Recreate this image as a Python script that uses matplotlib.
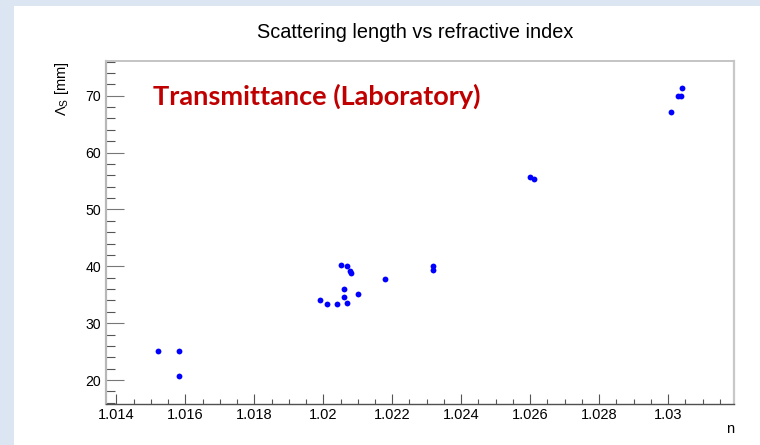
import matplotlib
matplotlib.use("Agg")
import matplotlib.pyplot as plt
from matplotlib.ticker import MultipleLocator, FuncFormatter
from matplotlib.patches import Rectangle

# Measured refractive index and scattering length
refr_index = [1.01522, 1.01582, 1.01582, 1.01990, 1.02010, 1.02039, 1.02050,
              1.02060, 1.02060, 1.02070, 1.02070, 1.02078, 1.02080, 1.02100,
              1.02179, 1.02319, 1.02319, 1.02600, 1.02610, 1.03008, 1.03028,
              1.03038, 1.03039]
scat_length = [25.2, 25.2, 20.8, 34.1, 33.4, 33.4, 40.2,
               36.0, 34.6, 40.1, 33.5, 39.2, 38.9, 35.2,
               37.8, 40.0, 39.3, 55.7, 55.3, 67.2, 69.9,
               69.9, 71.3]

title = "Scattering length vs refractive index"
x_title = "n"
y_title = r"$\mathrm{\Lambda_{S}}$ [mm]"
banner = "Transmittance (Laboratory)"

plt.rcParams["font.family"] = ["Liberation Sans", "DejaVu Sans"]
plt.rcParams["mathtext.fontset"] = "custom"
plt.rcParams["mathtext.rm"] = "Liberation Sans"

W, H = 760, 445
fig = plt.figure(figsize=(W / 100, H / 100), dpi=100, facecolor="white")

# light border strips along the top and left
strip = "#dce6f2"
fig.patches.append(Rectangle((0, 0), 14 / W, 1, transform=fig.transFigure,
                             facecolor=strip, edgecolor="none", zorder=0))
fig.patches.append(Rectangle((0, 1 - 6 / H), 1, 6 / H, transform=fig.transFigure,
                             facecolor=strip, edgecolor="none", zorder=0))

left, right, top, bottom = 106, 734, 61, 404
ax = fig.add_axes([left / W, 1 - bottom / H, (right - left) / W, (bottom - top) / H])

ax.plot(refr_index, scat_length, linestyle="none", marker="o", markersize=4.2,
        color="#0000ff", markeredgewidth=0)

ax.set_xlim(1.0137, 1.03191)
ax.set_ylim(15.8, 76.1)

ax.xaxis.set_major_locator(MultipleLocator(0.002))
ax.xaxis.set_minor_locator(MultipleLocator(0.0005))
ax.yaxis.set_major_locator(MultipleLocator(10))
ax.yaxis.set_minor_locator(MultipleLocator(2))
ax.xaxis.set_major_formatter(FuncFormatter(lambda v, p: f"{v:.3f}".rstrip("0")))
ax.yaxis.set_major_formatter(FuncFormatter(lambda v, p: f"{v:.0f}"))

ax.tick_params(axis="x", which="major", direction="in", length=7.2, width=0.8,
               color="#555555", labelsize=10.5, pad=3, top=False)
ax.tick_params(axis="x", which="minor", direction="in", length=3.6, width=0.8,
               color="#555555", top=False)
ax.tick_params(axis="y", which="major", direction="in", length=13, width=0.8,
               color="#777777", labelsize=10.2, pad=3.5, right=False)
ax.tick_params(axis="y", which="minor", direction="in", length=6.5, width=0.8,
               color="#555555", right=False)

ax.spines["left"].set_color("#b8b8b8")
ax.spines["left"].set_linewidth(1.6)
ax.spines["bottom"].set_color("#505050")
ax.spines["bottom"].set_linewidth(1.0)
ax.spines["top"].set_color("#c4c4c4")
ax.spines["top"].set_linewidth(1.4)
ax.spines["right"].set_color("#c8c8c8")
ax.spines["right"].set_linewidth(1.6)

fig.text(415 / W, 1 - 32 / H, title, ha="center", va="center", fontsize=14.3)
ax.text(1.0, -0.072, x_title, transform=ax.transAxes, ha="right", va="center",
        fontsize=10.5)
ax.text(-0.070, 0.998, y_title, transform=ax.transAxes, ha="center", va="top",
        rotation=90, fontsize=10.5)

ax.text((153 - left) / (right - left), (bottom - 96) / (bottom - top), banner,
        transform=ax.transAxes, ha="left", va="center", fontsize=19.5,
        fontweight="bold", color="#c00000", family=["Lato", "DejaVu Sans"])

fig.savefig("out.png", dpi=100, facecolor="white")
